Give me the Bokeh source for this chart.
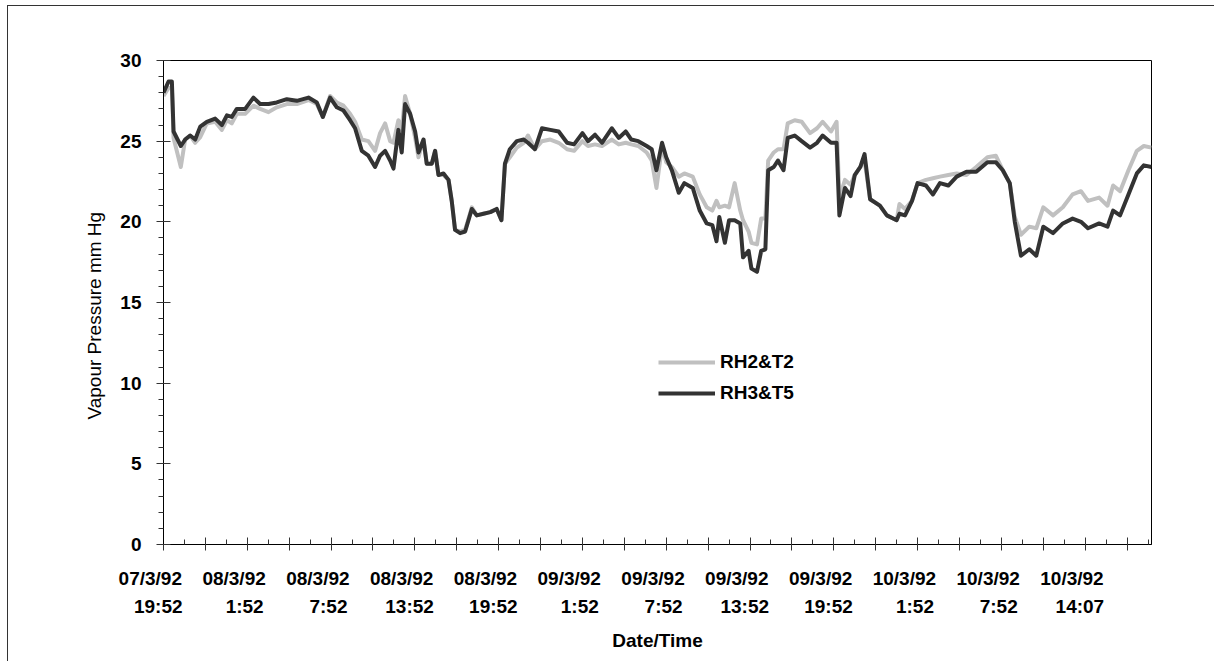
from bokeh.plotting import figure
from bokeh.models import Range1d, LinearAxis, FixedTicker, Legend, LegendItem
from bokeh.embed import file_html
from bokeh.resources import INLINE

# ---- data (hours since 07/3/92 19:52) ----
hours = [0.00, 0.36, 0.60, 0.72, 1.24, 1.55, 1.91, 2.27, 2.63, 3.10, 3.70, 4.18, 4.54, 4.89,
         5.25, 5.85, 6.44, 6.92, 7.52, 8.11, 8.83, 9.55, 10.38, 10.98, 11.41, 11.93, 12.41,
         12.89, 13.36, 13.72, 14.20, 14.67, 15.15, 15.51, 15.87, 16.23, 16.47, 16.82, 17.06,
         17.30, 17.66, 18.02, 18.26, 18.62, 18.85, 19.21, 19.45, 19.69, 20.05, 20.41, 20.64,
         20.88, 21.24, 21.60, 22.08, 22.43, 22.91, 23.40, 23.86, 24.20, 24.45, 24.80, 25.30,
         25.80, 26.10, 26.60, 27.10, 27.70, 28.30, 28.90, 29.40, 30.00, 30.40, 30.90, 31.40,
         32.10, 32.60, 33.10, 33.50, 34.00, 34.60, 34.96, 35.30, 35.70, 36.00, 36.40, 36.90,
         37.30, 37.90, 38.40, 38.90, 39.30, 39.60, 39.80, 40.20, 40.50, 40.90, 41.30, 41.50,
         41.90, 42.10, 42.50, 42.80, 43.10, 43.30, 43.70, 44.00, 44.40, 44.70, 45.20, 45.70,
         46.30, 46.80, 47.20, 47.80, 48.20, 48.40, 48.80, 49.20, 49.50, 49.90, 50.20, 50.60,
         51.30, 51.80, 52.50, 52.70, 53.10, 53.60, 54.00, 54.60, 55.10, 55.60, 56.20, 56.80,
         57.50, 58.20, 59.00, 59.60, 60.10, 60.60, 60.96, 61.40, 62.00, 62.50, 63.00, 63.70,
         64.40, 65.10, 65.70, 66.20, 67.00, 67.60, 68.00, 68.50, 69.10, 69.70, 70.20, 70.75]

rh2_t2 = [27.8, 28.3, 28.3, 25.2, 23.4, 25.1, 25.35, 24.9, 25.25, 26.1, 26.2, 25.7, 26.3, 26.1,
          26.7, 26.7, 27.2, 27.0, 26.8, 27.1, 27.3, 27.3, 27.55, 27.3, 26.5, 27.8, 27.4,
          27.2, 26.7, 26.2, 25.1, 25.0, 24.4, 25.5, 26.1, 25.0, 24.9, 26.3, 25.7,
          27.8, 26.7, 25.2, 24.0, 25.1, 23.6, 23.6, 24.4, 22.9, 22.9, 22.6, 21.3,
          19.5, 19.4, 19.5, 20.9, 20.4, 20.5, 20.6, 20.8, 20.1, 23.6, 24.0, 24.6,
          24.9, 25.35, 24.5, 25.0, 25.1, 24.9, 24.5, 24.4, 25.0, 24.7, 24.8, 24.7,
          25.1, 24.8, 24.9, 24.8, 24.7, 24.3, 23.8, 22.1, 24.7, 23.7, 23.4, 22.8,
          23.0, 22.8, 21.7, 20.9, 20.7, 21.3, 20.9, 21.0, 20.9, 22.4, 20.7, 20.1,
          19.4, 18.7, 18.6, 20.2, 20.2, 23.8, 24.3, 24.5, 24.5, 26.1, 26.3, 26.2,
          25.5, 25.8, 26.2, 25.6, 26.2, 21.5, 22.6, 22.3, 22.9, 23.4, 23.8, 21.4,
          21.0, 20.4, 20.1, 21.1, 20.8, 21.3, 22.4, 22.6, 22.7, 22.8, 22.9, 23.0,
          22.9, 23.4, 24.0, 24.1, 23.2, 22.4, 20.3, 19.2, 19.7, 19.6, 20.9, 20.4,
          20.9, 21.7, 21.9, 21.3, 21.5, 21.0, 22.25, 21.9, 23.2, 24.4, 24.7, 24.6]

rh3_t5 = [28.0, 28.7, 28.7, 25.6, 24.7, 25.1, 25.35, 25.1, 25.9, 26.2, 26.4, 26.0, 26.6, 26.5,
          27.0, 27.0, 27.7, 27.3, 27.3, 27.4, 27.6, 27.5, 27.7, 27.4, 26.5, 27.7, 27.1,
          26.9, 26.3, 25.8, 24.4, 24.1, 23.4, 24.1, 24.4, 23.8, 23.3, 25.7, 24.3,
          27.3, 26.7, 25.6, 24.3, 25.1, 23.6, 23.6, 24.4, 22.9, 23.0, 22.6, 21.3,
          19.5, 19.3, 19.4, 20.8, 20.4, 20.5, 20.6, 20.8, 20.1, 23.6, 24.5, 25.0,
          25.1, 24.9, 24.5, 25.8, 25.7, 25.6, 24.9, 24.8, 25.5, 25.0, 25.4, 24.9,
          25.8, 25.2, 25.6, 25.1, 25.0, 24.7, 24.5, 23.2, 24.9, 24.0, 23.2, 21.8,
          22.4, 22.1, 20.7, 19.9, 19.8, 18.8, 20.3, 18.7, 20.1, 20.1, 19.9, 17.8,
          18.2, 17.1, 16.9, 18.2, 18.3, 23.2, 23.4, 23.8, 23.2, 25.2, 25.35, 25.0,
          24.6, 24.9, 25.35, 24.9, 24.9, 20.4, 22.1, 21.6, 22.9, 23.4, 24.2, 21.4,
          21.0, 20.4, 20.1, 20.5, 20.4, 21.3, 22.4, 22.25, 21.7, 22.4, 22.25, 22.8,
          23.1, 23.1, 23.7, 23.7, 23.2, 22.4, 20.0, 17.9, 18.3, 17.9, 19.7, 19.3,
          19.9, 20.2, 20.0, 19.6, 19.9, 19.7, 20.7, 20.4, 21.7, 23.0, 23.5, 23.4]

series_names = ["RH2&T2", "RH3&T5"]
label_dates = ["07/3/92", "08/3/92", "08/3/92", "08/3/92", "08/3/92", "09/3/92",
               "09/3/92", "09/3/92", "09/3/92", "10/3/92", "10/3/92", "10/3/92"]
label_times = ["19:52", "1:52", "7:52", "13:52", "19:52", "1:52",
               "7:52", "13:52", "19:52", "1:52", "7:52", "14:07"]
label_hours = [6 * i for i in range(12)]
y_major = [0, 5, 10, 15, 20, 25, 30]
y_minor = list(range(0, 31))
x_major = [3 * i for i in range(24)]
x_minor = [3 * i + 1.5 for i in range(24)]

X_END = 70.75
FONT = "Liberation Sans"
FS = "19px"
NB = "\u00a0"

p = figure(width=1207, height=656, output_backend="svg", toolbar_location=None,
           margin=(5, 0, 0, 7),
           styles={"border-left": "1px solid #333333", "border-top": "1px solid #333333"},
           x_range=Range1d(0, X_END), y_range=Range1d(0, 30),
           x_axis_type=None, y_axis_type=None,
           min_border_left=155, min_border_right=64, min_border_top=54, min_border_bottom=118)
p.outline_line_color = "#000000"
p.outline_line_width = 1
p.background_fill_color = "white"
p.border_fill_color = "white"

# y axis
yaxis = LinearAxis(ticker=FixedTicker(ticks=y_major, minor_ticks=y_minor))
yaxis.axis_line_color = "black"
yaxis.major_tick_in = 7
yaxis.major_tick_out = 7
yaxis.minor_tick_in = 0
yaxis.minor_tick_out = 5
yaxis.major_tick_line_color = "#333333"
yaxis.minor_tick_line_color = "#333333"
yaxis.major_label_text_font = FONT
yaxis.major_label_text_font_style = "bold"
yaxis.major_label_text_font_size = FS
yaxis.major_label_text_color = "black"
yaxis.major_label_standoff = 15
yaxis.axis_label = "Vapour Pressure mm Hg" + NB * 5
yaxis.axis_label_text_font = FONT
yaxis.axis_label_text_font_style = "normal"
yaxis.axis_label_text_font_size = FS
yaxis.axis_label_text_color = "black"
yaxis.axis_label_standoff = 12
p.add_layout(yaxis, "left")

# x axis: tick marks only
xaxis = LinearAxis(ticker=FixedTicker(ticks=x_major, minor_ticks=x_minor))
xaxis.axis_line_color = "black"
xaxis.major_tick_in = 7
xaxis.major_tick_out = 6
xaxis.minor_tick_in = 5
xaxis.minor_tick_out = 0
xaxis.major_tick_line_color = "#333333"
xaxis.minor_tick_line_color = "#333333"
xaxis.major_label_text_font_size = "0px"
xaxis.major_label_text_color = None
xaxis.major_label_standoff = 0
p.add_layout(xaxis, "below")


def label_axis(texts, standoff):
    ax = LinearAxis(ticker=FixedTicker(ticks=label_hours, minor_ticks=[]))
    ax.major_label_overrides = {h: t for h, t in zip(label_hours, texts)}
    ax.axis_line_color = None
    ax.major_tick_line_color = None
    ax.minor_tick_line_color = None
    ax.major_tick_in = 0
    ax.major_tick_out = 0
    ax.major_label_text_font = FONT
    ax.major_label_text_font_style = "bold"
    ax.major_label_text_font_size = FS
    ax.major_label_text_color = "black"
    ax.major_label_standoff = standoff
    p.add_layout(ax, "below")
    return ax


# labels sit slightly left of their tick (trailing no-break spaces shift the centred text)
date_axis = label_axis([d + NB * 5 for d in label_dates], 17)
time_axis = label_axis([t + NB * (len(t) - 3) for t in label_times], 4)
time_axis.axis_label = "Date/Time"
time_axis.axis_label_text_font = FONT
time_axis.axis_label_text_font_style = "bold"
time_axis.axis_label_text_font_size = FS
time_axis.axis_label_text_color = "black"
time_axis.axis_label_standoff = 10

r1 = p.line(hours, rh2_t2, line_color="#c0c0c0", line_width=4, line_join="round")
r2 = p.line(hours, rh3_t5, line_color="#333333", line_width=4, line_join="round")

legend = Legend(items=[LegendItem(label=series_names[0], renderers=[r1]),
                       LegendItem(label=series_names[1], renderers=[r2])],
                location=(495, 140), orientation="vertical")
legend.border_line_color = None
legend.background_fill_alpha = 0
legend.padding = 0
legend.margin = 0
legend.spacing = 9
legend.glyph_width = 57
legend.glyph_height = 20
legend.label_height = 20
legend.label_standoff = 5
legend.label_text_font = FONT
legend.label_text_font_style = "bold"
legend.label_text_font_size = FS
legend.label_text_color = "black"
p.add_layout(legend)

open("out.html", "w").write(file_html(p, INLINE))
